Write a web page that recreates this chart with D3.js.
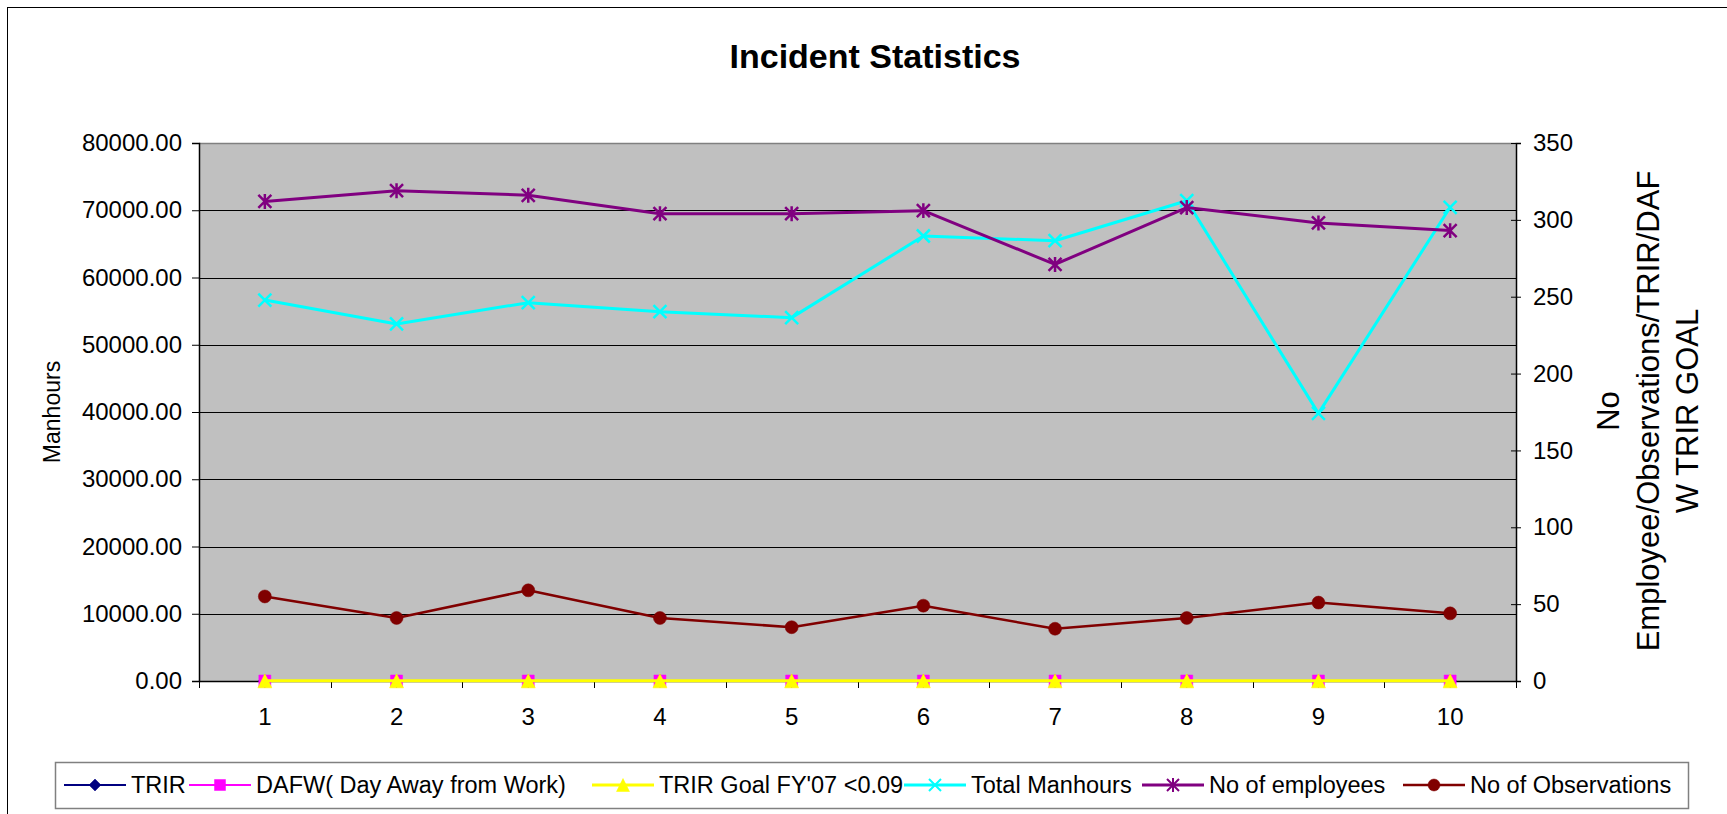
<!DOCTYPE html>
<html><head><meta charset="utf-8">
<script src="https://cdn.jsdelivr.net/npm/d3@7"></script>
<style>
html,body{margin:0;padding:0;background:#fff;overflow:hidden;}
svg{display:block;font-family:Arial,"Liberation Sans",sans-serif;}
</style></head><body>
<svg id="chart" width="1727" height="814"></svg>
<script>
// ---------- DATA ----------
const categories = ["1","2","3","4","5","6","7","8","9","10"];
const trir = [0,0,0,0,0,0,0,0,0,0];
const dafw = [0,0,0,0,0,0,0,0,0,0];
const trirGoal = [0.09,0.09,0.09,0.09,0.09,0.09,0.09,0.09,0.09,0.09];
const totalManhours = [56650,53090,56260,54920,54030,66170,65470,71420,39800,70440];
const employees = [312,319,316,304,304,306,271,308,298,293];
const observations = [55,41,59,41,35,49,34,41,51,44];
const leftTicks = [0,10000,20000,30000,40000,50000,60000,70000,80000];
const rightTicks = [0,50,100,150,200,250,300,350];
const seriesNames = ["TRIR","DAFW( Day Away from Work)","TRIR Goal FY'07 <0.09","Total Manhours","No of employees","No of Observations"];
const titleText = "Incident Statistics";
const leftTitle = "Manhours";
const rightTitleLines = ["No","Employee/Observations/TRIR/DAF","W TRIR GOAL"];

// ---------- LAYOUT ----------
const P = {left:199, right:1516, top:143, bottom:681};
const svg = d3.select("#chart");
svg.append("rect").attr("width",1727).attr("height",814).attr("fill","#fff");
svg.append("rect").attr("x",7.5).attr("y",7.5).attr("width",1800).attr("height",900)
  .attr("fill","none").attr("stroke","#000").attr("stroke-width",1);

const x = d3.scaleBand().domain(categories).range([P.left,P.right]).padding(0);
const yL = d3.scaleLinear().domain([0,80000]).range([P.bottom,P.top]);
const yR = d3.scaleLinear().domain([0,350]).range([P.bottom,P.top]);
const cx = c => x(c) + x.bandwidth()/2;

// title
svg.append("text").attr("x",875).attr("y",68).attr("text-anchor","middle")
  .attr("font-size",34).attr("font-weight","bold").text(titleText);

// plot background
svg.append("rect").attr("x",P.left).attr("y",P.top).attr("width",P.right-P.left)
  .attr("height",P.bottom-P.top).attr("fill","#C0C0C0");

// gridlines
svg.append("g").selectAll("line").data(leftTicks.filter(d=>d>0 && d<80000)).join("line")
  .attr("x1",P.left).attr("x2",P.right).attr("y1",d=>Math.round(yL(d))+0.5).attr("y2",d=>Math.round(yL(d))+0.5)
  .attr("stroke","#000").attr("stroke-width",1);
// top border
svg.append("line").attr("x1",P.left).attr("x2",P.right).attr("y1",P.top+0.5).attr("y2",P.top+0.5)
  .attr("stroke","#808080").attr("stroke-width",1.5);

// left axis
const gL = svg.append("g").attr("transform",`translate(${P.left},0)`)
  .call(d3.axisLeft(yL).tickValues(leftTicks).tickFormat(d=>d.toFixed(2)).tickSize(7).tickPadding(10));
gL.select(".domain").attr("stroke","#000").attr("stroke-width",1.5);
gL.selectAll("line").attr("stroke","#000");
gL.selectAll("text").attr("font-size",24).attr("font-family","Arial,'Liberation Sans',sans-serif").attr("fill","#000");

// right axis
const gR = svg.append("g").attr("transform",`translate(${P.right},0)`)
  .call(d3.axisRight(yR).tickValues(rightTicks).tickSize(5).tickPadding(12));
gR.select(".domain").attr("stroke","#000").attr("stroke-width",1.5);
gR.selectAll(".tick line").attr("x1",-5).attr("x2",5).attr("stroke","#000");
gR.selectAll("text").attr("font-size",24).attr("font-family","Arial,'Liberation Sans',sans-serif").attr("fill","#000");

// bottom axis
const gB = svg.append("g").attr("transform",`translate(0,${P.bottom})`)
  .call(d3.axisBottom(x).tickSize(0).tickPadding(27));
gB.select(".domain").attr("stroke","#000").attr("stroke-width",1.5);
gB.selectAll("text").attr("font-size",24).attr("font-family","Arial,'Liberation Sans',sans-serif").attr("fill","#000");
const bounds = categories.map(c=>x(c)).concat([x(categories[categories.length-1])+x.bandwidth()]);
gB.append("g").selectAll("line").data(bounds).join("line")
  .attr("x1",d=>Math.round(d)+0.5).attr("x2",d=>Math.round(d)+0.5).attr("y1",0).attr("y2",7)
  .attr("stroke","#000").attr("stroke-width",1);

// axis titles
svg.append("text").attr("transform",`translate(60,${(P.top+P.bottom)/2}) rotate(-90)`)
  .attr("text-anchor","middle").attr("font-size",23).text(leftTitle);
const rtBase = [1619,1659,1698];
rightTitleLines.forEach((t,i)=>{
  svg.append("text").attr("transform",`translate(${rtBase[i]},${(P.top+P.bottom)/2 - 1}) rotate(-90)`)
    .attr("text-anchor","middle").attr("font-size",31).text(t);
});

// ---------- MARKERS ----------
function markerPath(type, s){
  const h=s/2;
  switch(type){
    case "diamond": return `M0,${-h}L${h},0L0,${h}L${-h},0Z`;
    case "square": return `M${-h},${-h}H${h}V${h}H${-h}Z`;
    case "triangle": return `M0,${-h}L${h},${h}L${-h},${h}Z`;
    case "x": return `M${-h},${-h}L${h},${h}M${-h},${h}L${h},${-h}`;
    case "star": return `M${-h},${-h}L${h},${h}M${-h},${h}L${h},${-h}M0,${-h*1.15}L0,${h*1.15}`;
    case "circle": return `M${-h},0A${h},${h} 0 1,0 ${h},0A${h},${h} 0 1,0 ${-h},0Z`;
  }
}
const series = [
  {name:seriesNames[0], values:trir, y:yR, color:"#000080", marker:"diamond", size:13, lw:2, filled:true},
  {name:seriesNames[1], values:dafw, y:yR, color:"#FF00FF", marker:"square", size:12, lw:2, filled:true},
  {name:seriesNames[2], values:trirGoal, y:yR, color:"#FFFF00", marker:"triangle", size:14, lw:3, filled:true},
  {name:seriesNames[3], values:totalManhours, y:yL, color:"#00FFFF", marker:"x", size:13, lw:3, filled:false},
  {name:seriesNames[4], values:employees, y:yR, color:"#800080", marker:"star", size:13, lw:3, filled:false},
  {name:seriesNames[5], values:observations, y:yR, color:"#800000", marker:"circle", size:13, lw:2.5, filled:true}
];
const plotG = svg.append("g");
series.forEach(s=>{
  const pts = categories.map((c,i)=>[cx(c), s.y(s.values[i])]);
  plotG.append("path").attr("d",d3.line()(pts)).attr("fill","none")
    .attr("stroke",s.color).attr("stroke-width",s.lw).attr("stroke-linejoin","round");
  plotG.append("g").selectAll("path").data(pts).join("path")
    .attr("transform",d=>`translate(${d[0]},${d[1]})`)
    .attr("d",markerPath(s.marker,s.size))
    .attr("fill",s.filled?s.color:"none")
    .attr("stroke",s.color).attr("stroke-width",s.filled?0.5:2.5);
});

// ---------- LEGEND ----------
const legY = 785;
svg.append("rect").attr("x",55.5).attr("y",762.5).attr("width",1633).attr("height",46)
  .attr("fill","#fff").attr("stroke","#808080").attr("stroke-width",1.5);
const legStarts = [64,189,592,904,1142,1403];
series.forEach((s,i)=>{
  const g = svg.append("g").attr("transform",`translate(${legStarts[i]},${legY})`);
  g.append("line").attr("x1",0).attr("x2",62).attr("y1",0).attr("y2",0)
    .attr("stroke",s.color).attr("stroke-width",s.lw);
  g.append("path").attr("transform","translate(31,0)").attr("d",markerPath(s.marker,s.size-1))
    .attr("fill",s.filled?s.color:"none").attr("stroke",s.color).attr("stroke-width",s.filled?0.5:2);
  g.append("text").attr("x",67).attr("y",0).attr("dy","0.35em").attr("font-size",23.5).text(s.name);
});
</script>
</body></html>
